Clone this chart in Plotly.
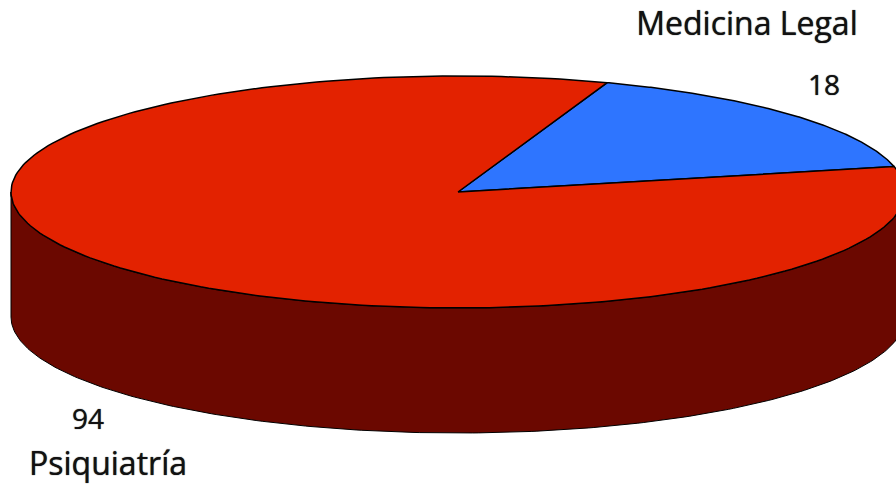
import numpy as np
import plotly.graph_objects as go

categories = ["Medicina Legal", "Psiquiatría"]
values = [18, 94]
top_colors = ["#2E75FF", "#E32200"]
wall_color = "#6B0800"

W, H = 896, 486
CX, CY, RX, RY = 458.0, 192.0, 447.0, 116.0
DEPTH = 125.0
START_DEG = 19.5  # clockwise from the top


def rim(a_deg, b_deg, n=240):
    t = np.radians(np.linspace(a_deg, b_deg, n))
    return CX + RX * np.sin(t), CY - RY * np.cos(t)


fig = go.Figure()

# Wall of the disc: front half of the rim, extruded downward
xf, yf = rim(90, 270)
fig.add_trace(go.Scatter(
    x=np.r_[xf, xf[::-1]], y=np.r_[yf, yf[::-1] + DEPTH], mode="lines", fill="toself",
    fillcolor=wall_color, line=dict(color="#000000", width=1), hoverinfo="skip", showlegend=False))

# Top face, slices measured from the values
total = sum(values)
angle = START_DEG
for name, value, color in zip(categories, values, top_colors):
    sweep = 360.0 * value / total
    xr, yr = rim(angle, angle + sweep)
    fig.add_trace(go.Scatter(
        x=np.r_[CX, xr, CX], y=np.r_[CY, yr, CY], mode="lines", fill="toself",
        fillcolor=color, line=dict(color="#000000", width=1.5), name=name,
        hovertemplate=f"{name}: {value}<extra></extra>", showlegend=False))
    angle += sweep

# Labels
family = "Open Sans, Noto Sans, sans-serif"
label_font = dict(family=family, size=32, color="#111111", shadow="0 0 1px #222222")
value_font = dict(family=family, size=28, color="#111111", shadow="0 0 1px #222222")
fig.add_trace(go.Scatter(
    x=[747, 108], y=[27, 467], mode="text", text=categories, textposition="middle center",
    textfont=label_font, hoverinfo="skip", showlegend=False, cliponaxis=False))
fig.add_trace(go.Scatter(
    x=[824, 88], y=[88, 422], mode="text", text=[str(v) for v in values], textposition="middle center",
    textfont=value_font, hoverinfo="skip", showlegend=False, cliponaxis=False))

fig.update_layout(
    width=W, height=H, margin=dict(l=0, r=0, t=0, b=0),
    paper_bgcolor="white", plot_bgcolor="white",
    xaxis=dict(range=[0, W], visible=False, fixedrange=True),
    yaxis=dict(range=[H, 0], visible=False, fixedrange=True),
)
fig.write_html("out.html", config=dict(displayModeBar=False),
               post_script="document.body.style.margin='0';document.body.style.overflow='hidden';")
